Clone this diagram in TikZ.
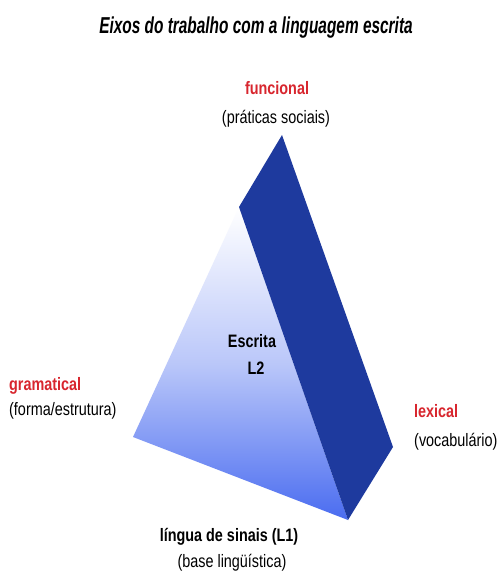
\documentclass[tikz,border=0pt]{standalone}
\usepackage{fontspec}
\setmainfont{Liberation Sans}[FakeStretch=0.8]
\newfontfamily\titlefont{Liberation Sans}[FakeStretch=0.67]
\definecolor{darkface}{HTML}{1E3A9E}
\definecolor{lightface}{HTML}{4A6CF0}
\definecolor{labred}{HTML}{D8262E}
\begin{document}
\begin{tikzpicture}[x=1pt,y=-1pt,
  lab/.style={inner sep=0pt,font=\fontsize{18}{21}\selectfont},
  redlab/.style={lab,text=labred,font=\fontsize{18}{21}\selectfont\bfseries},
  boldlab/.style={lab,font=\fontsize{18}{21}\selectfont\bfseries}]
\useasboundingbox[fill=white] (0,0) rectangle (500,578);
% light face
\shade[top color=white, bottom color=lightface, middle color=lightface!38!white]
  (239,207) -- (133,437) -- (348,520) -- cycle;
% dark face
\fill[darkface] (282,135) -- (239,207) -- (348,520) -- (393,447) -- cycle;
% texts
\node[inner sep=0pt,font=\titlefont\fontsize{23}{26}\selectfont\bfseries\itshape] (title) at (256,28) {Eixos do trabalho com a linguagem escrita};
\node[redlab] (fun) at (277,88) {funcional};
\node[lab] (funs) at (276,119) {(práticas sociais)};
\node[boldlab] (esc) at (252,341) {Escrita};
\node[boldlab] (l2) at (256,368) {L2};
\node[redlab,anchor=west] (gra) at (9,386) {gramatical};
\node[lab,anchor=west] (gras) at (9,411) {(forma/estrutura)};
\node[redlab,anchor=west] (lex) at (414,411) {lexical};
\node[lab,anchor=west] (lexs) at (414,442) {(vocabulário)};
\node[boldlab] (lin) at (229,537) {língua de sinais (L1)};
\node[lab] (lins) at (232,563) {(base lingüística)};
\end{tikzpicture}
\end{document}
